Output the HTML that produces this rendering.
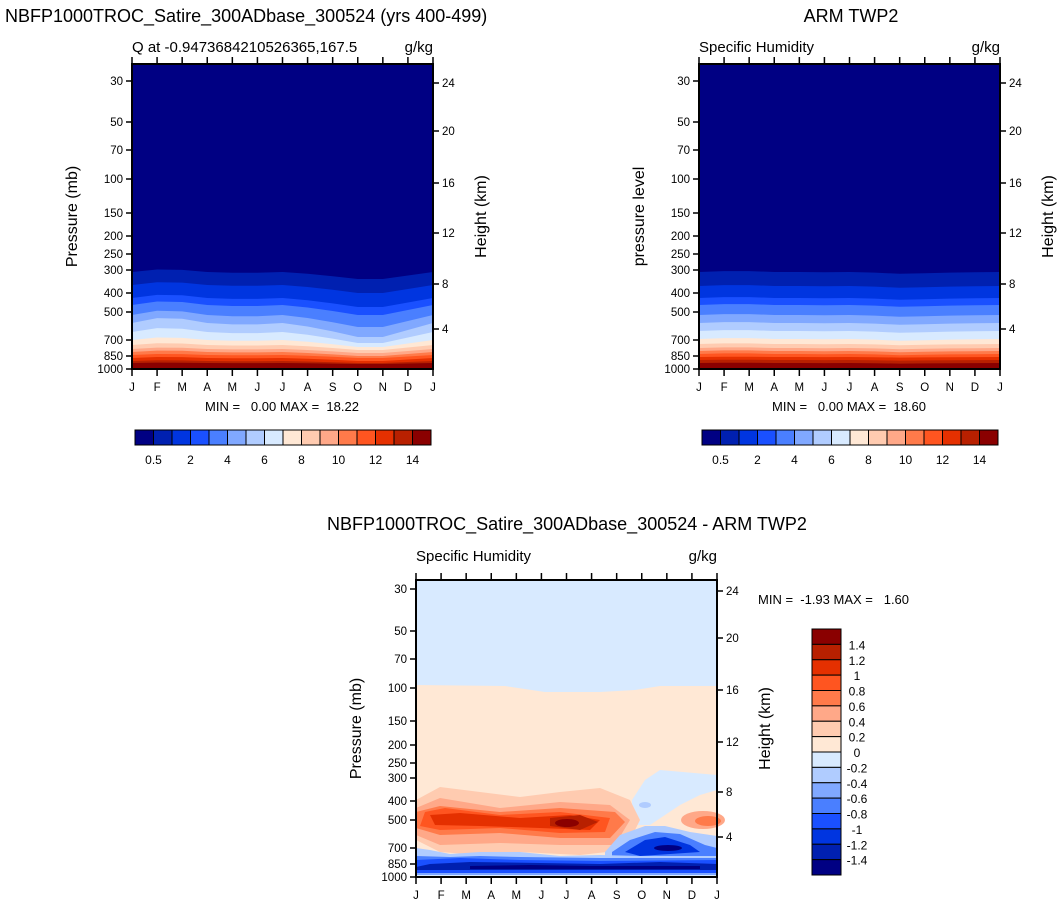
<!DOCTYPE html>
<html><head><meta charset="utf-8"><style>
html,body{margin:0;padding:0;background:#fff;}
svg{display:block;font-family:"Liberation Sans",Arial,sans-serif;}
</style></head><body>
<svg id="s" width="1063" height="908" xmlns="http://www.w3.org/2000/svg"></svg>
<script>
const S=document.getElementById('s');
let h='';
const C=['#000083','#0020B0','#0035E0','#1A50FF','#4A7FFF','#80A8FF','#B0CCFF','#D8EAFF','#FFE8D5','#FFCBB0','#FFA888','#FF7A4A','#FF5520','#E53000','#B82000','#8A0000'];
const M=['J','F','M','A','M','J','J','A','S','O','N','D','J'];
function t(x,y,s,sz,anc,extra){h+=`<text x="${x}" y="${y}" font-size="${sz}" text-anchor="${anc||'start'}" ${extra||''}>${s}</text>`;}
function poly(pts,c){h+=`<polygon points="${pts.map(p=>p.join(',')).join(' ')}" fill="${c}"/>`;}
function topPlot(x0,shape,amp,bnds){
  const x1=x0+301,y0=64,y1=369;
  h+=`<rect x="${x0}" y="${y0}" width="301" height="305" fill="${C[0]}"/>`;
  bnds.forEach((b,i)=>{
    const pts=[];
    for(let k=0;k<13;k++){pts.push([x0+k*301/12,b+shape[k]*amp[i]]);}
    pts.push([x1,y1],[x0,y1]);
    poly(pts,C[i+1]);
  });
}
const sh1=[0,-0.35,-0.3,0,0.1,0.1,0,0.25,0.6,1,1,0.5,0];
topPlot(132,sh1,[7,8,9,10,12,14,11,7,5,4,4,3,3,2,1],[272,285,298,305,315,323,332,340,345,349,352,355,358,361,363]);
const sh2=[0,-0.3,-0.3,0,0,0.1,0,0.2,0.6,0.4,0.2,0.1,0];
topPlot(699,sh2,[3,3,3,3,3,3,3,3,2,2,2,2,1,1,1],[272,286,298,305,315,323,331,339,344,348,351,354,357,360,363]);
(function(){
  h+=`<rect x="416" y="580" width="301" height="297" fill="#FFE8D5"/>`;
  poly([[416,580],[717,580],[717,686],[660,686],[635,690],[600,692],[545,692],[505,686],[416,685]],'#D8EAFF');
  poly([[632,800],[645,780],[660,770],[717,775],[717,790],[700,795],[680,805],[665,815],[650,825],[632,825]],'#D8EAFF');
  poly([[416,800],[440,787],[480,792],[520,797],[560,792],[600,788],[630,800],[640,820],[625,850],[580,855],[520,852],[480,855],[440,852],[416,840]],'#FFCBB0');
  poly([[416,808],[440,798],[500,808],[560,802],[610,805],[630,820],[615,845],[560,845],[500,843],[440,845],[416,835]],'#FFA888');
  poly([[416,812],[440,806],[500,812],[560,808],[615,812],[625,822],[610,838],[560,838],[500,833],[440,835],[416,828]],'#FF7A4A');
  poly([[425,812],[445,808],[500,815],[560,812],[610,818],[605,832],[560,833],[500,828],[440,830],[420,826]],'#FF5520');
  poly([[430,815],[460,813],[520,818],[570,815],[600,820],[590,830],[540,828],[480,826],[435,825]],'#E53000');
  poly([[550,818],[580,815],[598,822],[580,830],[550,826]],'#B82000');
  h+=`<ellipse cx="567" cy="823" rx="12" ry="4" fill="#8A0000"/>`;
  h+=`<ellipse cx="703" cy="820" rx="22" ry="9" fill="#FFA888"/><ellipse cx="708" cy="821" rx="13" ry="5" fill="#FF7A4A"/>`;
  h+=`<ellipse cx="645" cy="805" rx="6" ry="3" fill="#B0CCFF"/>`;
  poly([[605,852],[620,835],[645,826],[665,826],[690,832],[717,836],[717,862],[605,862]],'#B0CCFF');
  poly([[612,852],[630,840],[655,832],[680,834],[705,845],[717,848],[717,860],[612,860]],'#4A7FFF');
  poly([[625,852],[645,840],[665,837],[690,845],[700,852],[640,856]],'#0035E0');
  h+=`<ellipse cx="668" cy="848" rx="14" ry="3" fill="#000083"/>`;
  poly([[416,848],[430,850],[450,854],[480,852],[520,852],[560,856],[600,855],[640,856],[717,856],[717,877],[416,877]],'#B0CCFF');
  poly([[416,856],[450,857],[480,856],[520,857],[600,858],[717,858],[717,875],[416,875]],'#4A7FFF');
  poly([[416,860],[460,858],[520,860],[600,861],[717,860],[717,873],[416,873]],'#1A50FF');
  poly([[430,864],[470,862],[540,863],[600,864],[660,862],[717,864],[717,870],[416,870],[416,867]],'#0020B0');
  poly([[470,866],[530,865],[590,866],[640,866],[700,866],[700,869],[470,869]],'#000083');
  h+=`<rect x="416" y="873" width="301" height="3" fill="#80A8FF"/><rect x="416" y="875" width="301" height="2" fill="#D8EAFF"/>`;
})();
function axes(x0,y0,y1,pt,ht,ylab){
  const x1=x0+301;
  h+=`<rect x="${x0}" y="${y0}" width="301" height="${y1-y0}" fill="none" stroke="#000" stroke-width="2"/>`;
  pt.forEach(p=>{h+=`<line x1="${x0-6}" y1="${p[1]}" x2="${x0}" y2="${p[1]}" stroke="#000" stroke-width="1.5"/>`;t(x0-9,p[1]+4,p[0],11.5,'end');});
  ht.forEach(p=>{h+=`<line x1="${x1}" y1="${p[1]}" x2="${x1+6}" y2="${p[1]}" stroke="#000" stroke-width="1.5"/>`;t(x1+9,p[1]+4,p[0],11.5,'start');});
  for(let k=0;k<13;k++){const x=x0+k*301/12;
    h+=`<line x1="${x}" y1="${y1}" x2="${x}" y2="${y1+7}" stroke="#000" stroke-width="1.5"/><line x1="${x}" y1="${y0}" x2="${x}" y2="${y0-7}" stroke="#000" stroke-width="1.5"/>`;
    t(x,y1+22,M[k],11.5,'middle');}
  const yc=(y0+y1)/2;
  h+=`<text transform="translate(${x0-55},${yc}) rotate(-90)" font-size="16" text-anchor="middle">${ylab}</text>`;
  h+=`<text transform="translate(${x1+53},${yc}) rotate(-90)" font-size="16" text-anchor="middle">Height (km)</text>`;
}
const PT=[['30',81],['50',122],['70',150],['100',179],['150',213],['200',236],['250',254],['300',270],['400',293],['500',312],['700',340],['850',356],['1000',369]];
const HT=[['24',83],['20',131],['16',183],['12',233],['8',284],['4',329]];
axes(132,64,369,PT,HT,'Pressure (mb)');
axes(699,64,369,PT,HT,'pressure level');
axes(416,580,877,[['30',589],['50',631],['70',659],['100',688],['150',721],['200',745],['250',763],['300',778],['400',801],['500',820],['700',848],['850',864],['1000',877]],[['24',591],['20',638],['16',690],['12',742],['8',792],['4',837]],'Pressure (mb)');
t(5,22,'NBFP1000TROC_Satire_300ADbase_300524 (yrs 400-499)',18);
t(851,22,'ARM TWP2',18,'middle');
t(132,52,'Q at -0.9473684210526365,167.5',15);t(433,52,'g/kg',15,'end');
t(699,52,'Specific Humidity',15);t(1000,52,'g/kg',15,'end');
t(567,530,'NBFP1000TROC_Satire_300ADbase_300524 - ARM TWP2',18,'middle');
t(416,561,'Specific Humidity',15);t(717,561,'g/kg',15,'end');
t(282,411,'MIN =&#160;&#160; 0.00 MAX =&#160; 18.22',13,'middle');
t(849,411,'MIN =&#160;&#160; 0.00 MAX =&#160; 18.60',13,'middle');
t(758,604,'MIN = &#160;-1.93 MAX = &#160; 1.60',13);
function hbar(x0){const w=296/16;
  for(let i=0;i<16;i++)h+=`<rect x="${x0+i*w}" y="430" width="${w}" height="15" fill="${C[i]}" stroke="#000" stroke-width="1"/>`;
  const L=['0.5','2','4','6','8','10','12','14'];
  L.forEach((l,j)=>t(x0+(1+2*j)*w,464,l,12,'middle'));}
hbar(135);hbar(702);
(function(){const y0=629,hh=246/16;
  for(let i=0;i<16;i++)h+=`<rect x="812" y="${y0+i*hh}" width="29" height="${hh}" fill="${C[15-i]}" stroke="#000" stroke-width="1"/>`;
  const L=['1.4','1.2','1','0.8','0.6','0.4','0.2','0','-0.2','-0.4','-0.6','-0.8','-1','-1.2','-1.4'];
  L.forEach((l,j)=>t(857,y0+(j+1)*hh+5,l,12,'middle'));})();
S.innerHTML=h;
</script>
</body></html>
